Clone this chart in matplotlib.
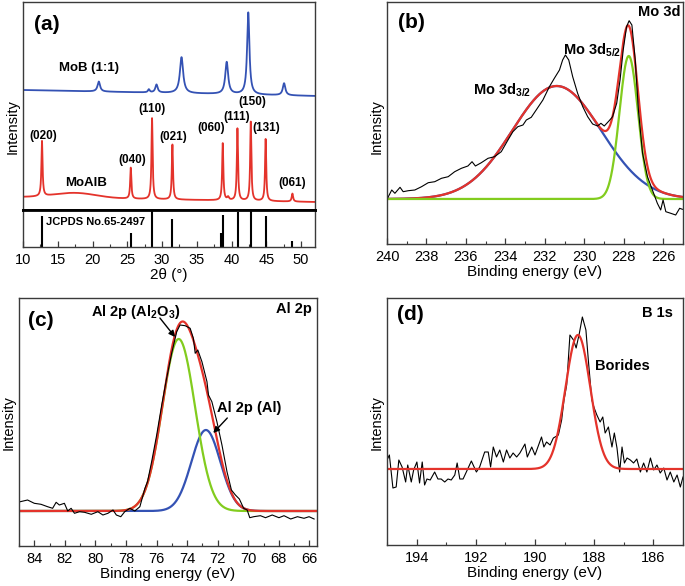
import numpy as np
import matplotlib
matplotlib.use('Agg')
import matplotlib.pyplot as plt
from matplotlib.ticker import MultipleLocator

plt.rcParams['font.family'] = ['Liberation Sans', 'DejaVu Sans']
plt.rcParams['mathtext.fontset'] = 'custom'
plt.rcParams['mathtext.rm'] = 'Liberation Sans'
plt.rcParams['mathtext.bf'] = 'Liberation Sans:bold'

W, H = 685, 586

# --- (a) XRD: peak lists ---
moalb_pos = [12.73, 25.5, 28.56, 31.49, 38.73, 39.5, 40.84, 42.76, 44.9, 48.75]
moalb_height = [55, 31, 81, 55, 57, 3, 72, 79, 62, 8]
moalb_hwhm = [0.1, 0.1, 0.1, 0.1, 0.1, 0.15, 0.1, 0.1, 0.1, 0.12]
moalb_hump = (17.5, 5, 3.0)          # broad amorphous hump: centre, height, sigma
moalb_background = (13, 8)           # level at 10 and 52 deg

mob_pos = [20.9, 28.1, 29.2, 32.8, 39.3, 42.4, 47.55]
mob_height = [10, 3, 8, 36, 32, 82, 12]
mob_hwhm = [0.22, 0.15, 0.2, 0.28, 0.25, 0.2, 0.22]
mob_background = (120, 114)

jcpds_pos = [12.7, 25.5, 28.55, 31.5, 38.5, 38.75, 40.9, 42.8, 45.0, 48.75]
jcpds_int = [31, 14, 37, 28, 14, 32, 35, 37, 31, 6]

hkl_labels = ['(020)', '(040)', '(110)', '(021)', '(060)', '(111)', '(150)', '(131)', '(061)']

# --- (b) Mo 3d ---
mo_E = [240.0, 239.76, 239.6, 239.34, 239.18, 238.92, 238.59, 238.25, 237.91, 237.58,
        237.24, 236.9, 236.57, 236.23, 235.9, 235.69, 235.52, 235.22, 234.88, 234.55,
        234.21, 233.87, 233.62, 233.37, 233.11, 232.94, 232.69, 232.44, 232.1, 231.77,
        231.52, 231.26, 231.1, 230.96, 230.79, 230.59, 230.34, 230.08, 229.83, 229.58,
        229.33, 229.16, 228.99, 228.74, 228.57, 228.36, 228.19, 228.03, 227.86, 227.73,
        227.59, 227.42, 227.26, 227.05, 226.8, 226.55, 226.3, 226.13, 226.01, 225.87,
        225.62, 225.37, 225.17, 225.03]
mo_I = [44.7, 54, 50.7, 56.7, 52.3, 53.3, 54, 57.3, 61.3, 62.3,
        65.7, 67.3, 72.3, 75.7, 78, 82.3, 78, 81.3, 85.7, 87.3,
        92.3, 104, 112.3, 117.3, 119, 124, 126.7, 134, 144, 157.3,
        165.7, 174, 184, 189, 184, 167.3, 150.7, 137.3, 127.3, 120,
        118, 120.7, 118, 123.3, 127.3, 140.7, 164, 194, 217.3, 223.3,
        219, 184, 134, 90.7, 67.3, 54, 40.7, 34, 44, 32.3,
        30.7, 29, 35.7, 34.7]
mo_baseline = 45
mo_fit_centre = [231.4, 227.75]      # 3d3/2 (blue), 3d5/2 (green)
mo_fit_height = [113, 143]
mo_fit_sigma = [2.25, 0.47]

# --- (c) Al 2p ---
al_E = [85.0, 84.44, 84.0, 83.56, 83.13, 82.8, 82.57, 82.36, 82.03, 81.81,
        81.59, 81.37, 81.04, 80.71, 80.27, 79.84, 79.51, 79.18, 78.85, 78.63,
        78.34, 78.08, 77.75, 77.42, 77.09, 76.76, 76.59, 76.32, 75.99, 75.66,
        75.34, 75.01, 74.68, 74.46, 74.13, 73.8, 73.59, 73.47, 73.3, 73.03,
        72.7, 72.6, 72.38, 72.05, 71.72, 71.39, 71.1, 70.84, 70.58, 70.3,
        70.07, 69.9, 69.64, 69.2, 68.87, 68.43, 67.99, 67.66, 67.22, 66.78,
        66.35, 66.02, 65.69]
al_I = [44, 46, 42.7, 41.7, 39.3, 37.7, 43.7, 41, 42.7, 35,
        37.7, 32.7, 34.3, 33.7, 31.7, 34.3, 31, 32.7, 36, 31,
        29.3, 34.3, 37.7, 35, 39.3, 57.7, 64.3, 84.3, 111, 141,
        167.7, 192.7, 214.3, 221, 220.3, 217.7, 207.7, 192.7, 196, 184.3,
        164.3, 151, 144.3, 124.3, 101, 74.3, 56, 51, 47, 37.7,
        36, 28.3, 29.3, 30.3, 28.3, 31, 28.3, 30.3, 27, 29.3,
        27.7, 29.3, 27]
al_baseline = 35
al_fit_centre = [74.55, 72.77]       # Al2O3 (green), Al (blue)
al_fit_height = [172, 81]
al_fit_sigma = [1.07, 0.95]

# --- (d) B 1s ---
b_E = [195.03, 194.92, 194.80, 194.69, 194.60, 194.49, 194.37, 194.30, 194.18, 194.10,
       193.99, 193.90, 193.81, 193.73, 193.65, 193.54, 193.39, 193.28, 193.17, 193.05,
       192.94, 192.83, 192.71, 192.63, 192.54, 192.43, 192.32, 192.15, 191.98, 191.87,
       191.70, 191.58, 191.50, 191.41, 191.30, 191.19, 191.07, 190.96, 190.85, 190.74,
       190.62, 190.51, 190.34, 190.26, 190.11, 190.00, 189.89, 189.78, 189.70, 189.61,
       189.49, 189.38, 189.21, 189.10, 189.02, 188.93, 188.82, 188.70, 188.61, 188.50,
       188.40, 188.28, 188.19, 188.08, 188.00, 187.91, 187.80, 187.71, 187.63, 187.52,
       187.40, 187.32, 187.23, 187.14, 187.06, 186.98, 186.89, 186.78, 186.67, 186.56,
       186.44, 186.33, 186.22, 186.10, 185.99, 185.88, 185.77, 185.65, 185.54, 185.43,
       185.31, 185.20, 185.09, 185.00]
b_I = [83, 90, 57, 58, 85, 78, 63, 80, 63, 75,
       83, 62, 83, 60, 66, 65, 73, 66, 66, 63,
       66, 65, 70, 82, 66, 66, 73, 84, 73, 78,
       93, 93, 78, 98, 88, 95, 83, 95, 87, 92,
       88, 92, 101, 88, 98, 90, 99, 108, 98, 103,
       100, 107, 110, 125, 145, 160, 210, 205, 197, 212,
       228, 215, 182, 145, 137, 130, 123, 128, 112, 118,
       98, 112, 97, 73, 98, 82, 87, 85, 82, 86,
       73, 82, 73, 87, 75, 80, 72, 77, 65, 73,
       63, 70, 58, 68]
b_baseline = 76
b_fit = (188.55, 134, 0.42)

RED = '#e4332b'
BLUE = '#3452b4'
GREEN = '#82cc1e'
SPINE = '#3a3a3a'


def lorentz(x, c, h, w):
    return h / (1 + ((x - c) / w) ** 2)


def gauss(x, c, h, s):
    return h * np.exp(-0.5 * ((x - c) / s) ** 2)


def rect(l, t, r, b):
    return [l / W, 1 - b / H, (r - l) / W, (b - t) / H]


def ftext(x, y, s, **kw):
    fig.text(x / W, 1 - y / H, s, **kw)


def style(ax, major, minor):
    ax.xaxis.set_major_locator(MultipleLocator(major))
    ax.xaxis.set_minor_locator(MultipleLocator(minor))
    ax.set_yticks([])
    ax.tick_params(axis='x', which='major', direction='in', length=4, width=0.9,
                   labelsize=10.5, pad=4, color=SPINE)
    ax.tick_params(axis='x', which='minor', direction='in', length=2.5, width=0.8, color=SPINE)
    for s in ax.spines.values():
        s.set_color(SPINE)
        s.set_linewidth(1.0)


fig = plt.figure(figsize=(W / 100, H / 100), dpi=100)

# ---------------- (a) ----------------
ax_a = fig.add_axes(rect(23, 2, 315, 210))
ax_j = fig.add_axes(rect(23, 210, 315, 247), sharex=ax_a)

tt = np.linspace(10, 52, 6000)
moalb = moalb_background[0] + (moalb_background[1] - moalb_background[0]) * (tt - 10) / 42
moalb = moalb + gauss(tt, *moalb_hump)
for c, h, w in zip(moalb_pos, moalb_height, moalb_hwhm):
    moalb = moalb + lorentz(tt, c, h, w)
mob = mob_background[0] + (mob_background[1] - mob_background[0]) * (tt - 10) / 42
for c, h, w in zip(mob_pos, mob_height, mob_hwhm):
    mob = mob + lorentz(tt, c, h, w)

ax_a.plot(tt, mob, color=BLUE, lw=1.3)
ax_a.plot(tt, moalb, color=RED, lw=1.3)
ax_a.set_xlim(10, 52)
ax_a.set_ylim(0, 208)
ax_a.set_yticks([])
ax_a.tick_params(axis='x', which='both', bottom=False, labelbottom=False)
for s in ax_a.spines.values():
    s.set_color(SPINE)
    s.set_linewidth(1.0)
ax_a.spines['bottom'].set_linewidth(2.0)
ax_a.spines['bottom'].set_color('black')

ax_j.vlines(jcpds_pos, 0, jcpds_int, color='black', lw=1.5)
ax_j.set_ylim(0, 37)
style(ax_j, 5, 2.5)
ax_j.spines['top'].set_linewidth(2.0)
ax_j.spines['top'].set_color('black')
ax_j.set_xlabel('2θ (°)', fontsize=11, labelpad=1)

bold = dict(fontweight='bold', ha='center', va='center')
ftext(47, 24, '(a)', fontsize=15, **bold)
ftext(89, 68, 'MoB (1:1)', fontsize=9.5, **bold)
ftext(86, 183, 'MoAlB', fontsize=9.5, **bold)
hkl_xy = [(43, 136), (132, 160), (152, 109), (173, 137), (211, 128),
          (237, 117), (252, 102), (266, 128), (292, 183)]
for lab, (x, y) in zip(hkl_labels, hkl_xy):
    ftext(x, y, lab, fontsize=8.5, **bold)
ftext(46, 222, 'JCPDS No.65-2497', fontsize=8, fontweight='bold', ha='left', va='center')
ftext(13, 127, 'Intensity', fontsize=10.5, rotation=90, ha='center', va='center')

# ---------------- (b) ----------------
ax_b = fig.add_axes(rect(387, 2, 683, 244))
eb = np.linspace(240, 225, 1500)
blue_b = mo_baseline + gauss(eb, mo_fit_centre[0], mo_fit_height[0], mo_fit_sigma[0])
green_b = mo_baseline + gauss(eb, mo_fit_centre[1], mo_fit_height[1], mo_fit_sigma[1])
red_b = blue_b + green_b - mo_baseline
ax_b.plot(eb, blue_b, color=BLUE, lw=1.6)
ax_b.plot(eb, red_b, color=RED, lw=1.6)
ax_b.plot(eb, green_b, color=GREEN, lw=1.6)
ax_b.plot(mo_E, mo_I, color='black', lw=0.8)
ax_b.set_xlim(240, 225)
ax_b.set_ylim(0, 242)
style(ax_b, 2, 1)
ax_b.set_xlabel('Binding energy (eV)', fontsize=11, labelpad=1)
ftext(411, 23, '(b)', fontsize=15, **bold)
ftext(659, 12, 'Mo 3d', fontsize=10.5, **bold)
ftext(563, 50, r'Mo 3d$_\mathbf{5/2}$', fontsize=10.5, fontweight='bold', ha='left', va='center')
ftext(473, 90, r'Mo 3d$_\mathbf{3/2}$', fontsize=10.5, fontweight='bold', ha='left', va='center')
ftext(377, 127, 'Intensity', fontsize=10.5, rotation=90, ha='center', va='center')

# ---------------- (c) ----------------
ax_c = fig.add_axes(rect(19, 298, 317, 546))
ec = np.linspace(85, 65.5, 1500)
green_c = al_baseline + gauss(ec, al_fit_centre[0], al_fit_height[0], al_fit_sigma[0])
blue_c = al_baseline + gauss(ec, al_fit_centre[1], al_fit_height[1], al_fit_sigma[1])
red_c = green_c + blue_c - al_baseline
ax_c.plot(ec, blue_c, color=BLUE, lw=1.6)
ax_c.plot(ec, green_c, color=GREEN, lw=1.6)
ax_c.plot(ec, red_c, color=RED, lw=1.6)
ax_c.plot(al_E, al_I, color='black', lw=0.8)
ax_c.set_xlim(85, 65.5)
ax_c.set_ylim(0, 248)
style(ax_c, 2, 1)
ax_c.set_xlabel('Binding energy (eV)', fontsize=11, labelpad=1)
arrow = dict(arrowstyle='-|>', color='black', lw=1.0, mutation_scale=9, shrinkA=0, shrinkB=0)
ax_c.annotate('', xy=(74.79, 209), xytext=(75.78, 228), arrowprops=arrow)
ax_c.annotate('', xy=(72.29, 113), xytext=(71.37, 128), arrowprops=arrow)
ftext(41, 320, '(c)', fontsize=15, **bold)
ftext(294, 309, 'Al 2p', fontsize=10.5, **bold)
ftext(91, 312, r'Al 2p (Al$_\mathbf{2}$O$_\mathbf{3}$)', fontsize=10.5, fontweight='bold',
      ha='left', va='center')
ftext(217, 408, 'Al 2p (Al)', fontsize=10.5, fontweight='bold', ha='left', va='center')
ftext(9, 423, 'Intensity', fontsize=10.5, rotation=90, ha='center', va='center')

# ---------------- (d) ----------------
ax_d = fig.add_axes(rect(387, 298, 683, 545))
ed = np.linspace(195, 185, 1000)
red_d = b_baseline + gauss(ed, *b_fit)
ax_d.plot(b_E, b_I, color='black', lw=0.8)
ax_d.plot(ed, red_d, color=RED, lw=1.6)
ax_d.set_xlim(195, 185)
ax_d.set_ylim(0, 247)
style(ax_d, 2, 1)
ax_d.set_xlabel('Binding energy (eV)', fontsize=11, labelpad=1)
ftext(410, 315, '(d)', fontsize=15, **bold)
ftext(657, 313, 'B 1s', fontsize=10.5, **bold)
ftext(622, 366, 'Borides', fontsize=10.5, **bold)
ftext(377, 423, 'Intensity', fontsize=10.5, rotation=90, ha='center', va='center')

fig.savefig('out.png', dpi=100)
